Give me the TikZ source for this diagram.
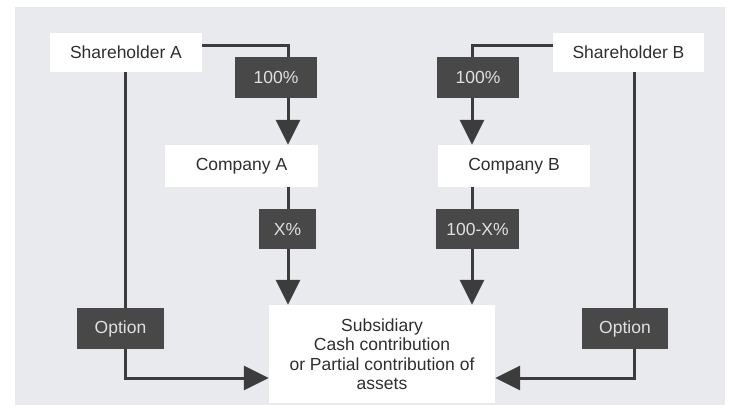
\documentclass[tikz,border=0pt]{standalone}
\usepackage{fontspec}
\setmainfont{Liberation Sans}
\usetikzlibrary{arrows.meta}
\pgfdeclarelayer{back}
\pgfdeclarelayer{lines}
\pgfsetlayers{back,lines,main}
\definecolor{paper}{HTML}{E8EAEE}
\definecolor{ink}{HTML}{3C3C3C}
\definecolor{tag}{HTML}{484848}
\definecolor{txt}{HTML}{2F2F2F}
\tikzset{
  party/.style={fill=white, draw=none, text=txt, inner sep=0pt,
    font=\fontsize{17.5}{19.5}\selectfont},
  share/.style={fill=tag, draw=none, text=white!88!black, inner sep=0pt,
    font=\fontsize{17.5}{19.5}\selectfont},
  conn/.style={draw=ink, line width=3pt},
  flow/.style={conn, -{Triangle[length=25pt,width=24pt]}},
}
\begin{document}
\begin{tikzpicture}[x=1pt,y=-1pt]
\useasboundingbox (0,0) rectangle (731,412);
\begin{pgfonlayer}{back}
  \fill[paper] (15,7) rectangle (725,405);
\end{pgfonlayer}

% entities
\node[party, minimum width=152pt, minimum height=39pt] (shA) at (126,52.5) {Shareholder A};
\node[party, minimum width=151pt, minimum height=39pt] (shB) at (628.5,52.5) {Shareholder B};
\node[party, minimum width=153pt, minimum height=42pt] (cA) at (241.5,166) {Company A};
\node[party, minimum width=152pt, minimum height=42pt] (cB) at (514,166) {Company B};
\node[party, minimum width=226pt, minimum height=98pt, align=center] (sub) at (382,354)
  {Subsidiary\\Cash contribution\\or Partial contribution of\\assets};

% ownership labels
\node[share, minimum width=82pt, minimum height=41pt] (pA) at (276,77.5) {100\%};
\node[share, minimum width=82pt, minimum height=41pt] (pB) at (478,77.5) {100\%};
\node[share, minimum width=57pt, minimum height=40pt] (xA) at (287.5,229) {X\%};
\node[share, minimum width=83pt, minimum height=40pt] (xB) at (477.5,229) {100-X\%};
\node[share, minimum width=87pt, minimum height=41pt] (oA) at (120.5,328.5) {Option};
\node[share, minimum width=86pt, minimum height=41pt] (oB) at (625,328.5) {Option};

% connectors (yshift is in page units, so positive moves up)
\begin{pgfonlayer}{lines}
  \draw[flow] ([yshift=6.5pt]shA.east) -| ([xshift=46.5pt]cA.north);
  \draw[flow] ([yshift=6.5pt]shB.west) -| ([xshift=-42pt]cB.north);
  \draw[flow] ([xshift=46.5pt]cA.south) -- ([xshift=-94pt]sub.north);
  \draw[flow] ([xshift=-42pt]cB.south) -- ([xshift=90pt]sub.north);
  \draw[flow] ([xshift=-1pt]shA.south) |- ([yshift=-24pt]sub.west);
  \draw[flow] ([xshift=5.5pt]shB.south) |- ([yshift=-24pt]sub.east);
\end{pgfonlayer}
\end{tikzpicture}
\end{document}
